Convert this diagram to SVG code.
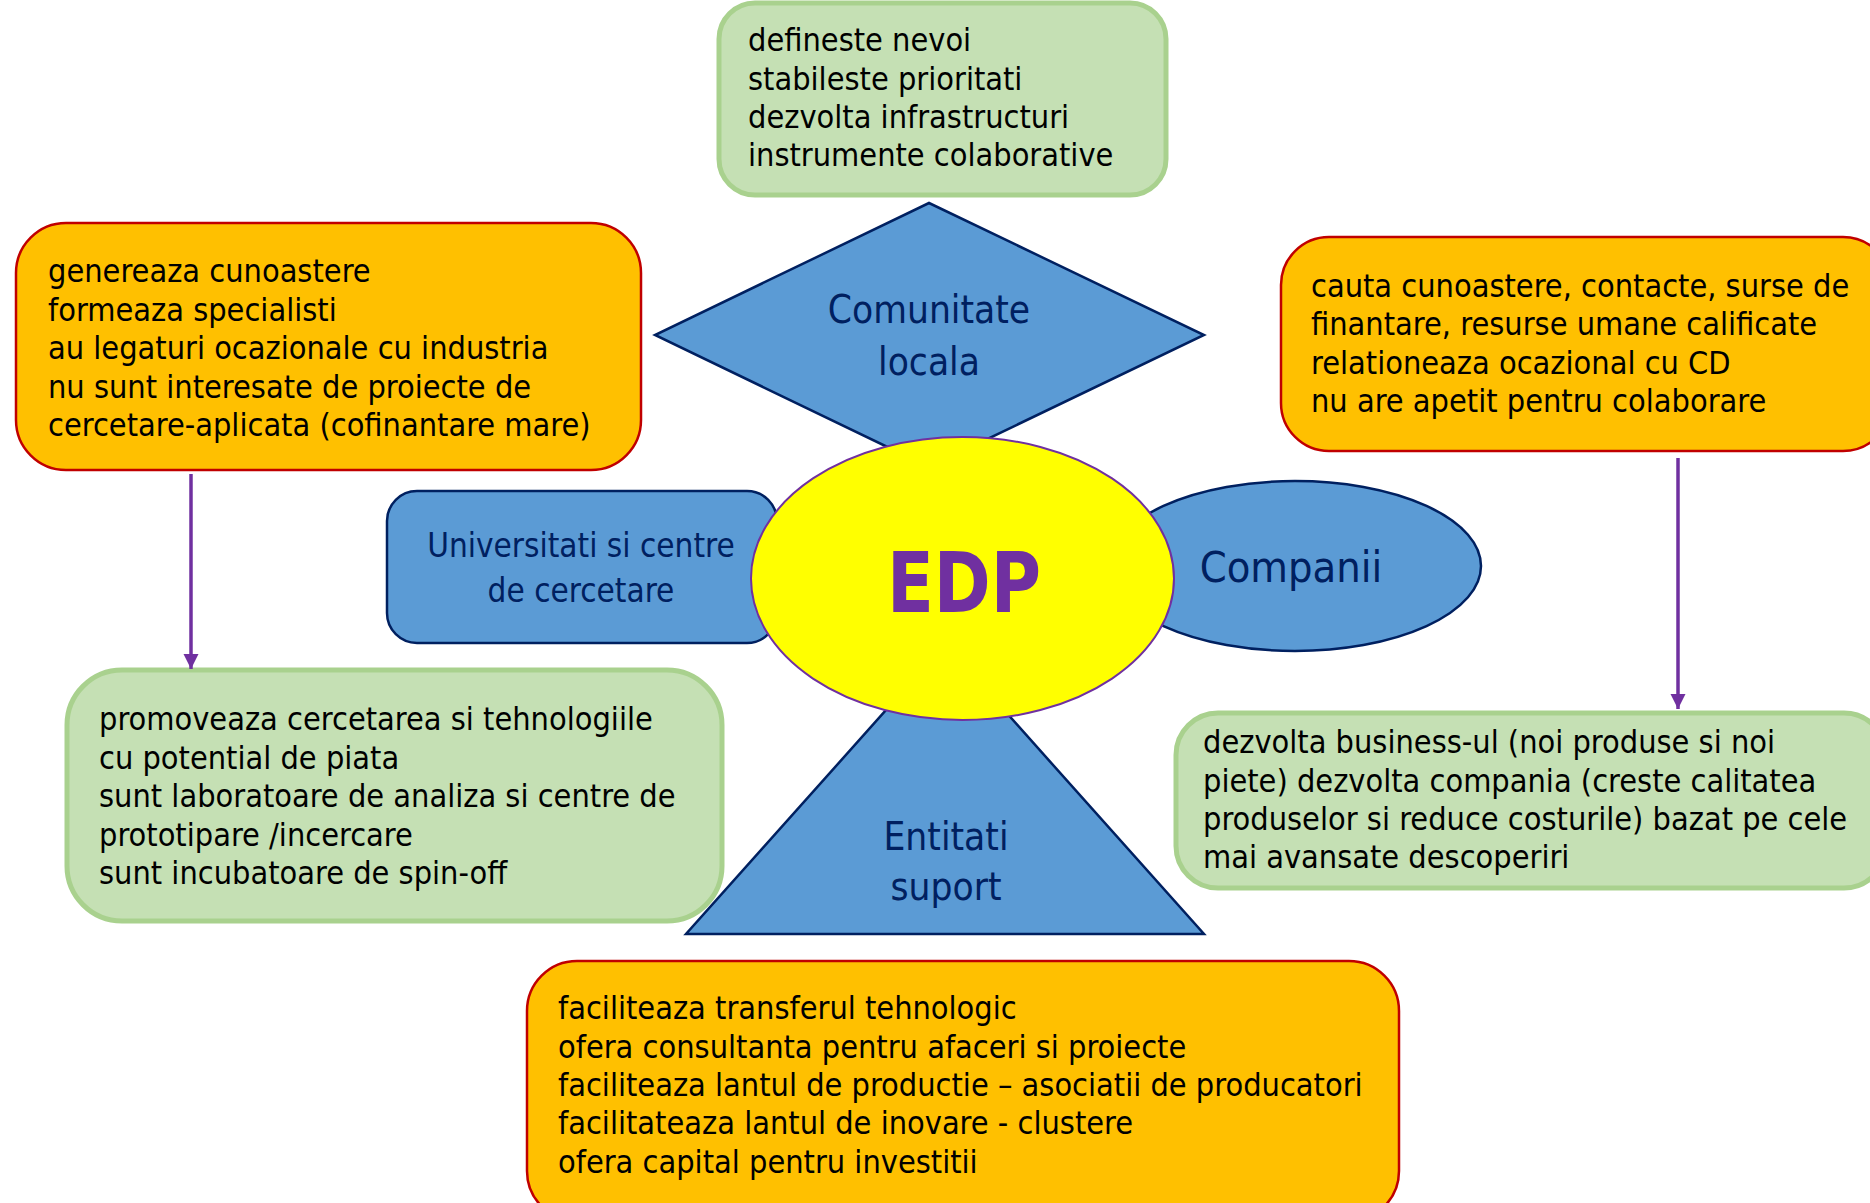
<svg xmlns="http://www.w3.org/2000/svg" width="1870" height="1203" viewBox="0 0 1870 1203">
<defs>
<style>
.green{fill:#C5E0B4;stroke:#A9D18E;stroke-width:5}
.orange{fill:#FFC000;stroke:#C00000;stroke-width:2.5}
.blue{fill:#5B9BD5;stroke:#002060;stroke-width:2.5}
.body{font-family:'DejaVu Sans Condensed','DejaVu Sans',sans-serif;font-stretch:condensed;font-size:32.2px;fill:#000}
.lbl{font-family:'DejaVu Sans Condensed','DejaVu Sans',sans-serif;font-stretch:condensed;fill:#002060;text-anchor:middle}
.conn{stroke:#7030A0;stroke-width:3.5;fill:none}
</style>
<marker id="arr" viewBox="0 0 10 10" refX="10" refY="5" markerWidth="4.3" markerHeight="4.3" orient="auto" markerUnits="strokeWidth">
<path d="M0,0 L10,5 L0,10 z" fill="#7030A0"/>
</marker>
</defs>
<rect width="1870" height="1203" fill="#fff"/>

<g id="comunitate">
<polygon class="blue" points="929,203 1204,335 929,467 655,335"/>
<text class="lbl" font-size="38.5" x="929" y="323">Comunitate</text>
<text class="lbl" font-size="38.5" x="929" y="375">locala</text>
</g>

<g id="entitati">
<polygon class="blue" points="945,644 1204,934 686,934"/>
<text class="lbl" font-size="38.5" x="946" y="850">Entitati</text>
<text class="lbl" font-size="38.5" x="946" y="900">suport</text>
</g>

<g id="universitati">
<rect class="blue" x="387" y="491" width="390" height="152" rx="30"/>
<text class="lbl" font-size="33" x="581" y="557">Universitati si centre</text>
<text class="lbl" font-size="33" x="581" y="602">de cercetare</text>
</g>

<g id="companii">
<ellipse class="blue" cx="1295" cy="566" rx="186" ry="85"/>
<text class="lbl" font-size="43" x="1291" y="582">Companii</text>
</g>

<g id="edp">
<ellipse cx="962.5" cy="578.5" rx="211.5" ry="141.5" fill="#FFFF00" stroke="#7030A0" stroke-width="2"/>
<text x="964" y="612" font-family="'DejaVu Sans',sans-serif" font-weight="bold" font-size="84" fill="#7030A0" text-anchor="middle" textLength="154" lengthAdjust="spacingAndGlyphs">EDP</text>
</g>

<g id="top-green">
<rect class="green" x="719" y="3" width="447" height="192" rx="36"/>
<text class="body"><tspan x="748" y="51">defineste nevoi</tspan><tspan x="748" y="89.5">stabileste prioritati</tspan><tspan x="748" y="128">dezvolta infrastructuri</tspan><tspan x="748" y="166">instrumente colaborative</tspan></text>
</g>

<g id="left-orange">
<rect class="orange" x="16" y="223" width="625" height="247" rx="50"/>
<text class="body"><tspan x="48" y="282">genereaza cunoastere</tspan><tspan x="48" y="320.5">formeaza specialisti</tspan><tspan x="48" y="359">au legaturi ocazionale cu industria</tspan><tspan x="48" y="397.5">nu sunt interesate de proiecte de</tspan><tspan x="48" y="436">cercetare-aplicata (cofinantare mare)</tspan></text>
</g>

<g id="right-orange">
<rect class="orange" x="1281" y="237" width="610" height="214" rx="48"/>
<text class="body"><tspan x="1311" y="297">cauta cunoastere, contacte, surse de</tspan><tspan x="1311" y="335">finantare, resurse umane calificate</tspan><tspan x="1311" y="373.5">relationeaza ocazional cu CD</tspan><tspan x="1311" y="412">nu are apetit pentru colaborare</tspan></text>
</g>

<g id="left-green">
<rect class="green" x="67" y="670" width="655" height="251" rx="55"/>
<text class="body"><tspan x="99" y="730">promoveaza cercetarea si tehnologiile</tspan><tspan x="99" y="768.5">cu potential de piata</tspan><tspan x="99" y="807">sunt laboratoare de analiza si centre de</tspan><tspan x="99" y="845.5">prototipare /incercare</tspan><tspan x="99" y="884">sunt incubatoare de spin-off</tspan></text>
</g>

<g id="right-green">
<rect class="green" x="1176" y="713" width="710" height="175" rx="42"/>
<text class="body"><tspan x="1203" y="753">dezvolta business-ul (noi produse si noi</tspan><tspan x="1203" y="791.5">piete) dezvolta compania (creste calitatea</tspan><tspan x="1203" y="830">produselor si reduce costurile) bazat pe cele</tspan><tspan x="1203" y="868">mai avansate descoperiri</tspan></text>
</g>

<g id="bottom-orange">
<rect class="orange" x="527" y="961" width="872" height="260" rx="50"/>
<text class="body"><tspan x="558" y="1019">faciliteaza transferul tehnologic</tspan><tspan x="558" y="1057.5">ofera consultanta pentru afaceri si proiecte</tspan><tspan x="558" y="1096">faciliteaza lantul de productie – asociatii de producatori</tspan><tspan x="558" y="1134">facilitateaza lantul de inovare - clustere</tspan><tspan x="558" y="1172.5">ofera capital pentru investitii</tspan></text>
</g>

<g id="connectors">
<line class="conn" x1="191" y1="474" x2="191" y2="669" marker-end="url(#arr)"/>
<line class="conn" x1="1678" y1="458" x2="1678" y2="709" marker-end="url(#arr)"/>
</g>
</svg>
